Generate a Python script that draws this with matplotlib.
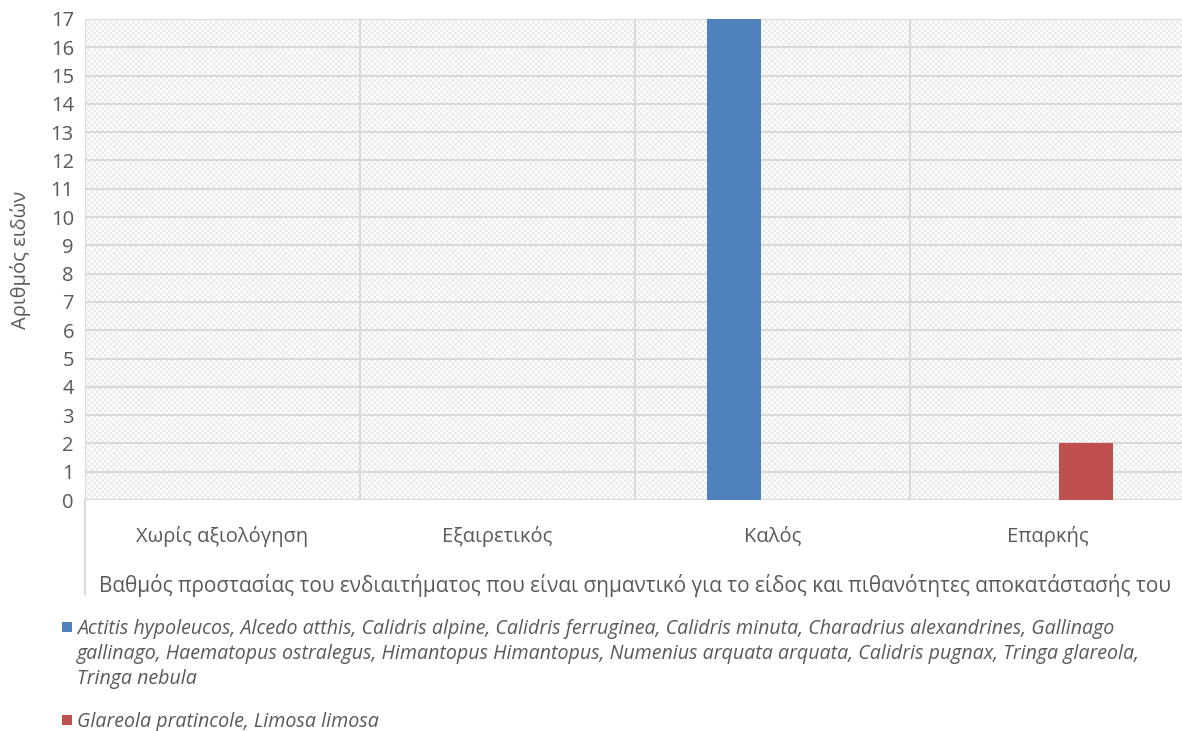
import matplotlib
matplotlib.use("Agg")
import matplotlib.pyplot as plt
from matplotlib.patches import Rectangle
from matplotlib.lines import Line2D
import numpy as np

categories = ["Χωρίς αξιολόγηση", "Εξαιρετικός", "Καλός", "Επαρκής"]
series_labels = [
    "Actitis hypoleucos, Alcedo atthis, Calidris alpine, Calidris ferruginea, Calidris minuta, "
    "Charadrius alexandrines, Gallinago\ngallinago, Haematopus ostralegus, Himantopus Himantopus, "
    "Numenius arquata arquata, Calidris pugnax, Tringa glareola,\nTringa nebula",
    "Glareola pratincole, Limosa limosa",
]
series_values = [
    [0, 0, 17, 0],
    [0, 0, 0, 2],
]
series_colors = ["#4f81bd", "#c0504d"]
y_ticks = list(range(0, 18))
x_title = "Βαθμός προστασίας του ενδιαιτήματος που είναι σημαντικό για το είδος και πιθανότητες αποκατάστασής του"
y_title = "Αριθμός ειδών"

plt.rcParams["font.family"] = ["Open Sans", "DejaVu Sans"]
plt.rcParams["hatch.linewidth"] = 0.6
text_color = "#595959"
grid_color = "#d9d9d9"

W, H = 1182, 731
fig = plt.figure(figsize=(W / 100, H / 100), dpi=100)
ax = fig.add_axes([85 / W, 1 - 500 / H, 1100 / W, (500 - 19) / H])

n = len(categories)
ax.set_xlim(0, n)
ax.set_ylim(0, 17)

# patterned plot-area background
bg = Rectangle((0, 0), 1, 1, transform=ax.transAxes, facecolor="white",
               edgecolor="#e6e6e6", hatch="xxxxxx", linewidth=0, zorder=0)
ax.add_patch(bg)

# grid lines
for y in y_ticks:
    ax.axhline(y, color=grid_color, lw=1.5, zorder=1)
for x in range(n + 1):
    ax.axvline(x, color=grid_color, lw=1.5, zorder=1)

bar_w = 0.196
offsets = [-0.14, 0.14]
xc = np.arange(n) + 0.5
for vals, off, col in zip(series_values, offsets, series_colors):
    ax.bar(xc + off, vals, width=bar_w, color=col, zorder=3)

for s in ax.spines.values():
    s.set_visible(False)

ax.set_yticks(y_ticks)
ax.set_yticklabels([str(v) for v in y_ticks], fontsize=14.5, color=text_color)
ax.set_xticks(xc)
ax.set_xticklabels(categories, fontsize=14.5, color=text_color)
ax.tick_params(axis="both", length=0)
ax.tick_params(axis="y", pad=8)
ax.tick_params(axis="x", pad=19)

ax.set_xlabel(x_title, fontsize=14.95, color=text_color, labelpad=19)
ax.set_ylabel(y_title, fontsize=14.5, color=text_color, labelpad=14)

# left axis line continuing through the category label area
fig.add_artist(Line2D([85 / W, 85 / W], [1 - 500 / H, 1 - 594 / H],
                      color=grid_color, lw=1.5))

# legend below the chart: square marker beside the first line of each entry
legend_rows = [627, 720]
for lab, col, yc in zip(series_labels, series_colors, legend_rows):
    fig.add_artist(Rectangle((62 / W, 1 - (yc + 5) / H), 10 / W, 10 / H,
                             facecolor=col, edgecolor="none",
                             transform=fig.transFigure))
    fig.text(77 / W, 1 - (yc - 8) / H, lab, ha="left", va="top",
             fontsize=14.1, style="italic", color=text_color, linespacing=1.34)

fig.savefig("out.png", dpi=100)
